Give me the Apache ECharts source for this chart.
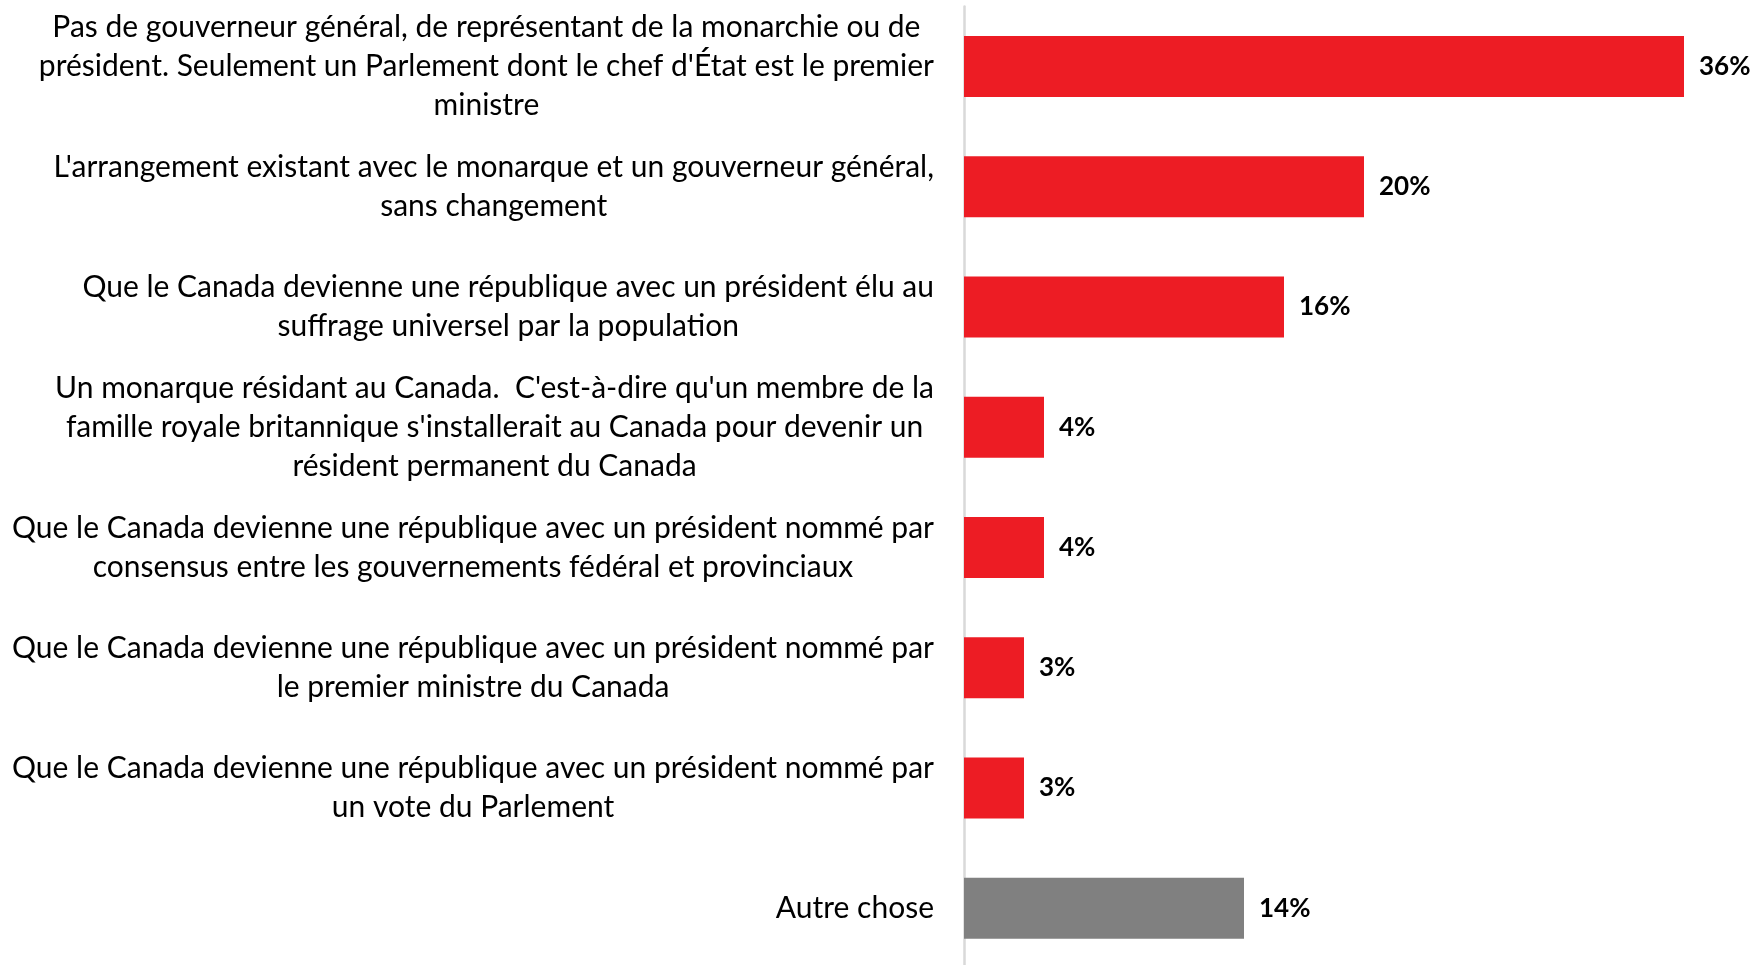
<!DOCTYPE html>
<html>
<head>
<meta charset="utf-8">
<script src="https://cdn.jsdelivr.net/npm/echarts@6/dist/echarts.min.js"></script>
<style>html,body{margin:0;padding:0;background:#fff;}#chart{width:1758px;height:965px;}</style>
</head>
<body>
<div id="chart"></div>
<script>
const categories = [
  "Pas de gouverneur général, de représentant de la monarchie ou de\nprésident. Seulement un Parlement dont le chef d'État est le premier\nministre",
  "L'arrangement existant avec le monarque et un gouverneur général,\nsans changement",
  "Que le Canada devienne une république avec un président élu au\nsuffrage universel par la population",
  "Un monarque résidant au Canada.  C'est-à-dire qu'un membre de la\nfamille royale britannique s'installerait au Canada pour devenir un\nrésident permanent du Canada",
  "Que le Canada devienne une république avec un président nommé par\nconsensus entre les gouvernements fédéral et provinciaux",
  "Que le Canada devienne une république avec un président nommé par\nle premier ministre du Canada",
  "Que le Canada devienne une république avec un président nommé par\nun vote du Parlement",
  "Autre chose"
];
const values = [36, 20, 16, 4, 4, 3, 3, 14];
const otherCategory = "Autre chose";

const chart = echarts.init(document.getElementById('chart'), null, {renderer: 'canvas'});
chart.setOption({
  backgroundColor: '#ffffff',
  animation: false,
  grid: {left: 964, right: 34, top: 6.4, height: 962, containLabel: false, outerBoundsMode: 'none'},
  xAxis: {
    type: 'value', min: 0, max: 38, show: false,
    splitLine: {show: false}
  },
  yAxis: {
    type: 'category', data: categories, inverse: true,
    axisLine: {show: true, lineStyle: {color: '#d9d9d9', width: 2.5}},
    axisTick: {show: false},
    axisLabel: {
      margin: 30,
      fontFamily: 'Lato',
      fontSize: 30,
      color: '#000000',
      lineHeight: 39,
      formatter: function (v) {
        return v.split('\n').map(function (l) { return '{c|' + l + '}'; }).join('\n');
      },
      rich: {c: {align: 'center', fontFamily: 'Lato', fontSize: 30, lineHeight: 39, color: '#000000'}}
    }
  },
  series: [{
    type: 'bar',
    data: values,
    barWidth: 61,
    itemStyle: {
      color: function (p) { return p.name === otherCategory ? '#808080' : '#ED1C24'; }
    },
    label: {
      show: true, position: 'right', distance: 15,
      formatter: '{c}%',
      fontFamily: 'Lato', fontWeight: 'bold', fontSize: 26, color: '#000000'
    }
  }]
});
</script>
</body>
</html>
